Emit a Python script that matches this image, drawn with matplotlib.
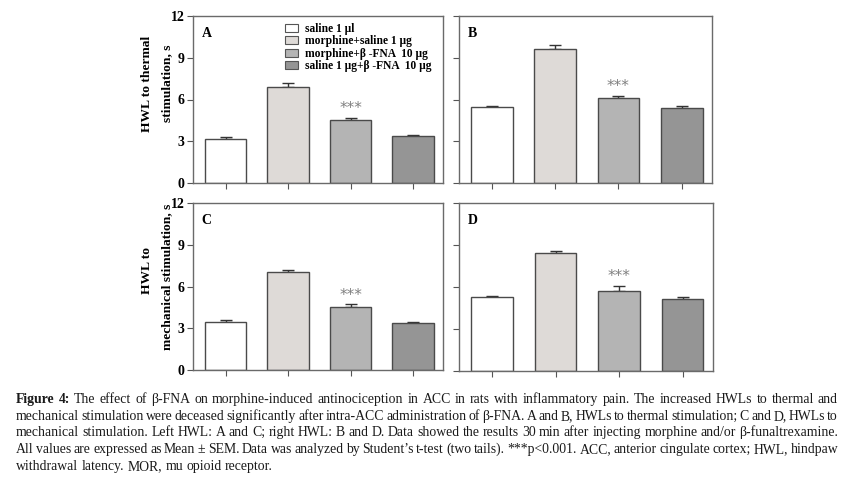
import matplotlib
matplotlib.use("Agg")
import matplotlib.pyplot as plt
from matplotlib.patches import Patch

W, H = 856, 479
fig = plt.figure(figsize=(W / 100, H / 100), dpi=100)

groups = ["saline 1 µl", "morphine+saline 1 µg", "morphine+β -FNA  10 µg", "saline 1 µg+β -FNA  10 µg"]
colors = ["#ffffff", "#dedad7", "#b4b4b4", "#959595"]

vals_A = [3.19, 6.87, 4.50, 3.38]
err_A = [0.14, 0.34, 0.19, 0.10]
vals_B = [5.44, 9.63, 6.08, 5.41]
err_B = [0.12, 0.26, 0.20, 0.15]
vals_C = [3.46, 7.03, 4.56, 3.36]
err_C = [0.14, 0.15, 0.17, 0.07]
vals_D = [5.27, 8.42, 5.70, 5.15]
err_D = [0.12, 0.15, 0.38, 0.12]

yticks = [0, 3, 6, 9, 12]
panel_labels = ["A", "B", "C", "D"]

serif = ["Liberation Serif", "DejaVu Serif"]

def px_axes(left, top, right, bottom):
    return fig.add_axes([left / W, 1 - bottom / H, (right - left) / W, (bottom - top) / H])

panels = [
    (px_axes(193, 16, 443, 183), vals_A, err_A, "A", True),
    (px_axes(459, 16, 712, 183), vals_B, err_B, "B", False),
    (px_axes(193, 203, 443, 370), vals_C, err_C, "C", True),
    (px_axes(459, 203, 713, 371), vals_D, err_D, "D", False),
]

for ax, vals, errs, lab, show_labels in panels:
    x = list(range(len(vals)))
    ax.bar(x, vals, width=0.66, color=colors, edgecolor="#4a4a4a", linewidth=1.0, zorder=2)
    ax.errorbar(x, vals, yerr=[[0] * len(errs), errs], fmt="none", ecolor="#333333",
                elinewidth=1.0, capsize=4.5, capthick=1.0, zorder=1)
    ax.text(2, vals[2] + errs[2] + 0.12, "***", ha="center", va="bottom",
            fontsize=11, color="#808080", fontfamily="DejaVu Sans")
    ax.set_xlim(-0.52, 3.48)
    ax.set_ylim(0, 12)
    ax.set_yticks(yticks)
    ax.set_xticks(x)
    ax.set_xticklabels([])
    if show_labels:
        ax.set_yticklabels([str(t) for t in yticks], fontfamily=serif, fontweight="bold", fontsize=10)
    else:
        ax.set_yticklabels([])
    ax.tick_params(axis="both", direction="out", length=4, width=0.8, color="#555555", pad=2)
    for s in ax.spines.values():
        s.set_color("#6a6a6a")
        s.set_linewidth(1.0)
    ax.text(0.035, 0.895, lab, transform=ax.transAxes, fontfamily=serif,
            fontweight="bold", fontsize=10, ha="left", va="center")

axA = panels[0][0]
handles = [Patch(facecolor=c, edgecolor="#555555", linewidth=0.8) for c in colors]
axA.legend(handles, groups, loc="upper left", bbox_to_anchor=(0.336, 1.005), frameon=False,
           prop={"family": serif, "weight": "bold", "size": 8.3}, handlelength=1.15,
           handleheight=0.7, handletextpad=0.55, labelspacing=0.02, borderpad=0.2)

lab_fs = 9.7
fig.text(147 / W, 1 - 84 / H, "HWL to thermal", rotation=90, ha="center", va="center",
         fontfamily=serif, fontweight="bold", fontsize=lab_fs)
fig.text(167 / W, 1 - 83 / H, "stimulation, s", rotation=90, ha="center", va="center",
         fontfamily=serif, fontweight="bold", fontsize=lab_fs)
fig.text(147 / W, 1 - 271 / H, "HWL to", rotation=90, ha="center", va="center",
         fontfamily=serif, fontweight="bold", fontsize=lab_fs)
fig.text(167 / W, 1 - 277 / H, "mechanical stimulation, s", rotation=90, ha="center", va="center",
         fontfamily=serif, fontweight="bold", fontsize=lab_fs)

caption_lines = [
    "Figure 4: The effect of β-FNA on morphine-induced antinociception in ACC in rats with inflammatory pain. The increased HWLs to thermal and",
    "mechanical stimulation were deceased significantly after intra-ACC administration of β-FNA. A and B, HWLs to thermal stimulation; C and D, HWLs to",
    "mechanical stimulation. Left HWL: A and C; right HWL: B and D. Data showed the results 30 min after injecting morphine and/or β-funaltrexamine.",
    "All values are expressed as Mean ± SEM. Data was analyzed by Student’s t-test (two tails). ***p<0.001. ACC, anterior cingulate cortex; HWL, hindpaw",
    "withdrawal latency. MOR, mu opioid receptor.",
]
line_y = [399, 416, 432, 449, 466]
x_left, x_right = 16, 838
cap_size = 9.9
renderer = fig.canvas.get_renderer()
for i, (line, yy) in enumerate(zip(caption_lines, line_y)):
    words = line.split(" ")
    texts = []
    for j, w in enumerate(words):
        bold = (i == 0 and j < 2)
        t = fig.text(0, 1 - (yy + 4) / H, w, fontfamily=serif, fontsize=cap_size, color="#1a1a1a",
                     fontweight="bold" if bold else "normal", ha="left", va="baseline")
        texts.append(t)
    widths = [t.get_window_extent(renderer).width for t in texts]
    if i < len(caption_lines) - 1:
        gap = (x_right - x_left - sum(widths)) / (len(words) - 1)
    else:
        gap = 3.4
    xx = x_left
    for t, wd in zip(texts, widths):
        t.set_x(xx / W)
        xx += wd + gap

fig.savefig("out.png", dpi=100)
